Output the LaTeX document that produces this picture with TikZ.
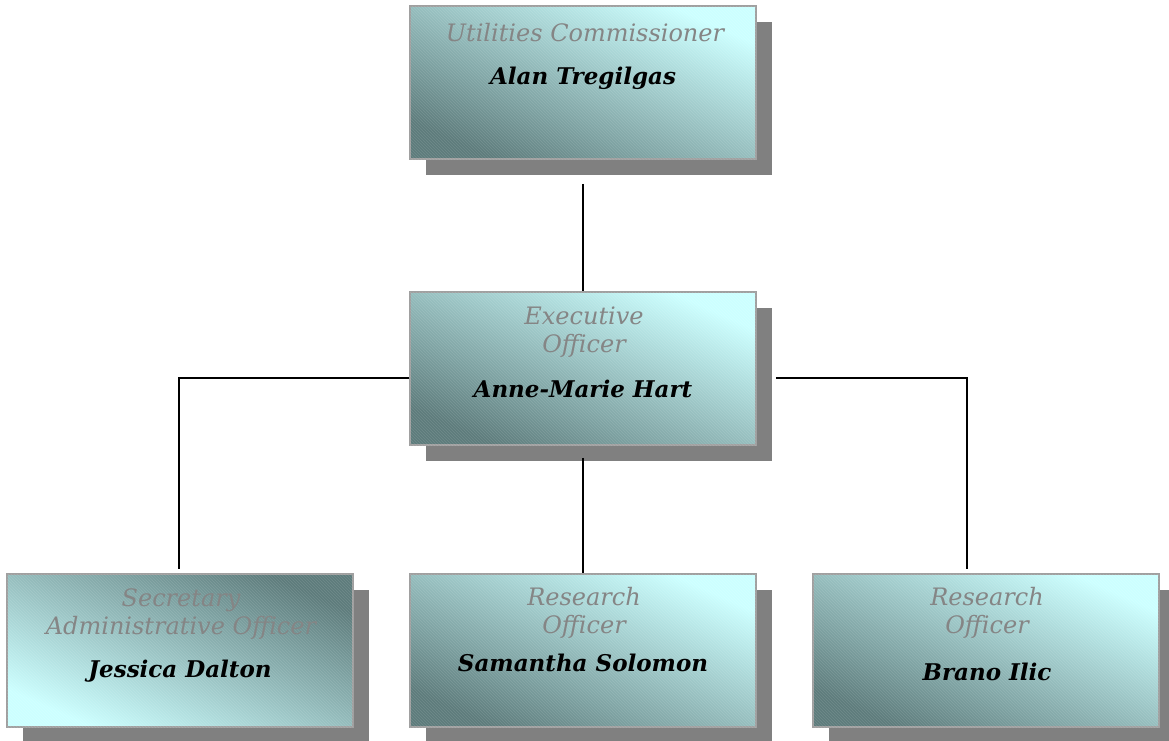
\documentclass[tikz,border=0pt]{standalone}
\usepackage{fontspec}
\setmainfont{DejaVu Serif}
\usetikzlibrary{shadows,patterns}
\definecolor{lightc}{HTML}{CCFFFF}
\definecolor{darkc}{HTML}{5E7C7C}
\definecolor{boxedge}{HTML}{A0A0A0}
\definecolor{shadowc}{HTML}{808080}
\definecolor{titlec}{HTML}{858585}
\tikzset{
  orgbox/.style={rectangle, minimum width=346pt, minimum height=153pt, inner sep=0pt,
    draw=boxedge, line width=1.5pt, shading=axis, top color=lightc, bottom color=darkc,
    shading angle=-24,
    drop shadow={shadow xshift=16pt, shadow yshift=-16pt, fill=shadowc, opacity=1},
    postaction={pattern=north west lines, pattern color=white!60, opacity=0.12}},
  orgboxrev/.style={orgbox, shading angle=156},
  roletext/.style={font=\fontsize{24}{28}\selectfont\itshape, text=titlec, align=center, inner sep=0pt},
  nametext/.style={font=\fontsize{23}{26}\selectfont\bfseries\itshape, text=black, inner sep=0pt},
  link/.style={line width=1.8pt, black}
}
\begin{document}
\begin{tikzpicture}[x=1pt,y=-1pt]
\useasboundingbox (0,0) rectangle (1169,740);
\node[orgbox] (b1) at (583,82.5) {};
\node[orgbox] (b2) at (583,368.5) {};
\node[orgboxrev] (b3) at (180,650.5) {};
\node[orgbox] (b4) at (583,650.5) {};
\node[orgbox] (b5) at (986,650.5) {};
% texts
\node[roletext] (t1) at (585,33) {Utilities Commissioner};
\node[nametext] (n1) at (583,78) {Alan Tregilgas};
\node[roletext] (t2) at (584,332) {Executive\\Officer};
\node[nametext] (n2) at (583,389) {Anne-Marie Hart};
\node[roletext] (t3) at (181,614) {Secretary\\Administrative Officer};
\node[nametext] (n3) at (180,671) {Jessica Dalton};
\node[roletext] (t4) at (584,613) {Research\\Officer};
\node[nametext] (n4) at (583,663) {Samantha Solomon};
\node[roletext] (t5) at (987,613) {Research\\Officer};
\node[nametext] (n5) at (987,672) {Brano Ilic};
% connectors
\draw[link] ([yshift=-24pt]b1.south) -- (b2.north);
\draw[link] ([yshift=-9.5pt]b2.west) -| ([xshift=-1pt,yshift=4pt]b3.north);
\draw[link] ([xshift=19pt,yshift=-9.5pt]b2.east) -| ([xshift=-19pt,yshift=4pt]b5.north);
\draw[link] ([yshift=-12pt]b2.south) -- (b4.north);
\end{tikzpicture}
\end{document}
